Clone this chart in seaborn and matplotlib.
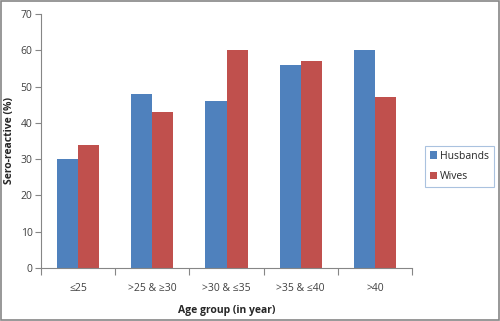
import matplotlib
matplotlib.use("Agg")
import matplotlib.pyplot as plt
import seaborn as sns
import pandas as pd
from matplotlib.patches import Rectangle

categories = ["≤25", ">25 & ≥30", ">30 & ≤35", ">35 & ≤40", ">40"]
husbands = [30, 48, 46, 56, 60]
wives = [34, 43, 60, 57, 47]
series_names = ["Husbands", "Wives"]
y_ticks = [0, 10, 20, 30, 40, 50, 60, 70]

df = pd.DataFrame({
    "Age group": categories * 2,
    "value": husbands + wives,
    "series": [series_names[0]] * len(categories) + [series_names[1]] * len(categories),
})

sns.set_theme(style="white")
plt.rcParams["font.family"] = ["Open Sans", "DejaVu Sans"]

fig = plt.figure(figsize=(5.0, 3.21), dpi=100)
ax = fig.add_axes([41 / 500, 1 - 268 / 321, (412 - 41) / 500, (268 - 14) / 321])

sns.barplot(data=df, x="Age group", y="value", hue="series", order=categories,
            hue_order=series_names, palette=["#4F81BD", "#C0504D"], width=0.57,
            saturation=1, ax=ax, linewidth=0)

ax.set_ylim(0, 70)
ax.set_xlim(-0.5, len(categories) - 0.5)
ax.set_yticks(y_ticks)
ax.set_yticklabels([str(v) for v in y_ticks], fontsize=7.5, color="#404040")
ax.set_xticks(range(len(categories)))
ax.set_xticklabels(categories, fontsize=7.5, color="#404040")
ax.set_xticks([i - 0.5 for i in range(len(categories) + 1)], minor=True)
ax.tick_params(axis="x", which="major", length=0, pad=11)
ax.tick_params(axis="x", which="minor", length=5, width=0.8, color="#868686", direction="out", bottom=True)
ax.tick_params(axis="y", length=4, width=0.8, color="#868686", direction="out", left=True, pad=2)

for side in ["top", "right"]:
    ax.spines[side].set_visible(False)
for side in ["left", "bottom"]:
    ax.spines[side].set_color("#868686")
    ax.spines[side].set_linewidth(0.8)

ax.set_xlabel("Age group (in year)", fontsize=7.5, fontweight="bold", labelpad=8)
ax.set_ylabel("Sero-reactive (%)", fontsize=7.5, fontweight="bold", labelpad=4)

leg = ax.legend(loc="center left", bbox_to_anchor=(1.02, 0.40), frameon=True, fontsize=7.5,
                handlelength=0.7, handleheight=0.7, handletextpad=0.3, borderpad=0.5,
                labelspacing=0.9, fancybox=False)
leg.get_frame().set_edgecolor("#95B3D7")
leg.get_frame().set_linewidth(0.8)

fig.patches.append(Rectangle((0.002, 0.003), 0.995, 0.993, transform=fig.transFigure,
                             fill=False, edgecolor="#868686", linewidth=1.2))

fig.savefig("out.png", dpi=100)
